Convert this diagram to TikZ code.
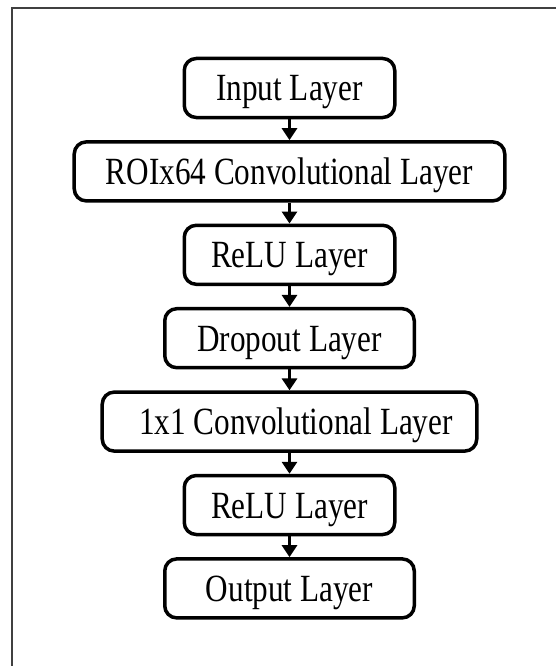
\documentclass[tikz,border=0pt]{standalone}
\usepackage{fontspec}
\setmainfont{Liberation Serif}
\newfontfamily\layerfont[FakeStretch=0.81]{Liberation Serif}
\usetikzlibrary{positioning}
\usetikzlibrary{arrows.meta}

\tikzset{layer/.style={draw,line width=3.5bp,rounded corners=12bp,minimum height=59bp,inner sep=0pt,text height=26bp,text depth=0pt,font=\layerfont\fontsize{38.5bp}{42bp}\selectfont},
 flow/.style={line width=3.5bp,-{Triangle[width=15bp,length=12bp]}}}

\begin{document}
\begin{tikzpicture}[x=1bp,y=1bp,node distance=20.9bp]
 %cadre
 \useasboundingbox (0,0) rectangle (556,-666);
 \draw[black!75,line width=2bp](11.5,-666)--(11.5,-8.5)--(556,-8.5);
 %couches
 \node[layer,minimum width=210.5bp] (input) at (289.5,-88) {Input Layer};
 \node[layer,minimum width=430.5bp,below=of input] (roiconv) {ROIx64 Convolutional Layer};
 \node[layer,minimum width=210.5bp,below=of roiconv] (relua) {ReLU Layer};
 \node[layer,minimum width=249.5bp,below=of relua] (dropout) {Dropout Layer};
 \node[layer,minimum width=374.5bp,below=of dropout] (oneconv) {\hspace*{13bp}1x1 Convolutional Layer};
 \node[layer,minimum width=210.5bp,below=of oneconv] (relub) {ReLU Layer};
 \node[layer,minimum width=249.5bp,below=of relub] (output) {Output Layer};
 %fleches
 \draw[flow] (input)--(roiconv);
 \draw[flow] (roiconv)--(relua);
 \draw[flow] (relua)--(dropout);
 \draw[flow] (dropout)--(oneconv);
 \draw[flow] (oneconv)--(relub);
 \draw[flow] (relub)--(output);
\end{tikzpicture}
\end{document}
